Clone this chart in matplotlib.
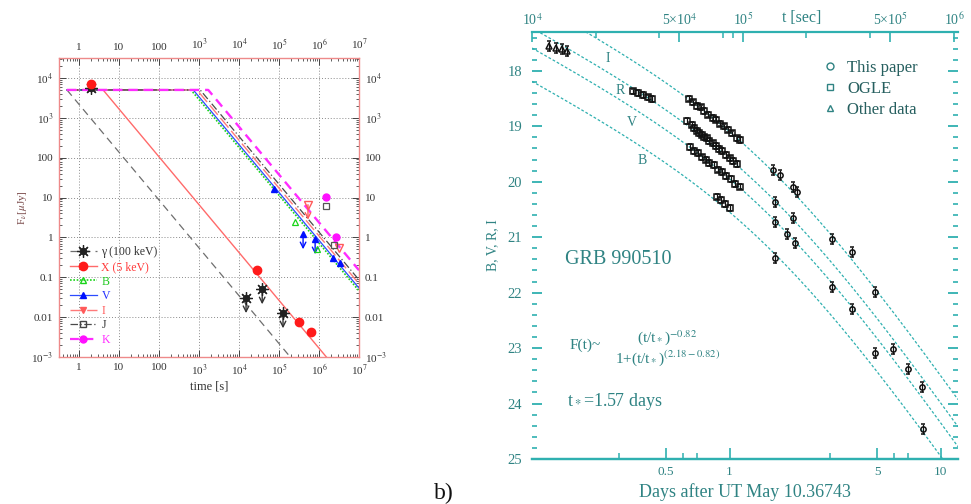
import numpy as np
import matplotlib
matplotlib.use("Agg")
import matplotlib.pyplot as plt
from matplotlib.lines import Line2D
from matplotlib.ticker import FixedLocator, NullFormatter, LogLocator
from matplotlib.legend_handler import HandlerTuple

plt.rcParams["font.family"] = ["Liberation Serif", "DejaVu Serif"]
plt.rcParams["mathtext.fontset"] = "stix"

# ---------------- panel a: broken power-law afterglow ----------------
band_names = ["γ (100 keV)", "X (5 keV)", "B", "V", "I", "J", "K"]
line_colors = ["#6e6e6e", "#ff6a6a", "#19d419", "#2b4bff", "#ff7a7a", "#4a4a4a", "#ff2bff"]
mark_colors = ["#222222", "#ff1a1a", "#19d419", "#0010ff", "#ff5a5a", "#444444", "#ff10ff"]
text_colors = ["#333333", "#ff3a3a", "#22c922", "#2230ff", "#ff5a5a", "#333333", "#ff2bff"]
F_plateau = 5.0e3
decay_index = 1.2
t_first = 0.5
t_last = 1.0e7
t_break = [0.5, 4.0, 630.0, 720.0, 890.0, 1070.0, 1700.0]

# observed points (t in s, F in microJy); True = upper limit
gam_t = [2.0, 1.5e4, 3.8e4, 1.26e5]
gam_F = [5.5e3, 0.030, 0.050, 0.0125]
gam_ul = [False, True, True, True]
x_t = [2.0, 2.8e4, 3.2e5, 6.3e5]
x_F = [7.0e3, 0.15, 0.0075, 0.0042]
b_t = [2.5e5, 9.0e5]
b_F = [2.4, 0.5]
v_t = [7.5e4, 4.0e5, 8.0e5, 2.2e6, 3.3e6]
v_F = [16.6, 1.2, 0.9, 0.30, 0.23]
v_ul = [False, True, True, False, False]
i_t = [5.3e5, 3.2e6]
i_F = [6.6, 0.53]
i_ul = [True, False]
j_t = [1.5e6, 2.4e6]
j_F = [6.3, 0.63]
k_t = [1.5e6, 2.6e6]
k_F = [10.5, 1.05]

x_tick_vals = [1, 10, 100, 1e3, 1e4, 1e5, 1e6, 1e7]
x_tick_text = ["1", "10", "100", "10$^3$", "10$^4$", "10$^5$", "10$^6$", "10$^7$"]
y_tick_vals = [1e-3, 1e-2, 0.1, 1, 10, 100, 1e3, 1e4]
y_tick_text = ["10$^{-3}$", "0.01", "0.1", "1", "10", "100", "10$^3$", "10$^4$"]

# ---------------- panel b: GRB 990510 optical light curves ----------------
alpha1 = 0.82
alpha2 = 2.18
t_star = 1.57  # days
curve_bands = ["I", "R", "V", "B"]
curve_zero = [19.03, 19.52, 19.88, 20.48]

I_day = [0.64, 0.67, 0.70, 0.73, 0.76, 0.79, 0.83, 0.86, 0.90, 0.94, 0.98, 1.03, 1.08, 1.12,
         1.61, 1.73, 2.00, 2.09, 3.06, 3.80, 4.89]
I_mag = [18.50, 18.57, 18.63, 18.66, 18.72, 18.79, 18.85, 18.88, 18.95, 19.00, 19.06, 19.13, 19.22, 19.25,
         19.78, 19.87, 20.09, 20.18, 21.04, 21.26, 21.98]
I_src = "ssssssssssssss" + "ooooooo"
R_day = [0.14, 0.15, 0.16, 0.17, 0.35, 0.37, 0.39, 0.41, 0.43,
         0.63, 0.66, 0.68, 0.70, 0.72, 0.74, 0.76, 0.78, 0.80, 0.83, 0.86, 0.89, 0.92, 0.96, 1.00, 1.04, 1.08,
         1.64, 2.00, 5.95, 7.01, 8.17]
R_mag = [17.55, 17.58, 17.61, 17.64, 18.37, 18.40, 18.44, 18.48, 18.51,
         18.90, 18.97, 19.03, 19.08, 19.12, 19.15, 19.20, 19.22, 19.27, 19.31, 19.36, 19.41, 19.45, 19.52, 19.58, 19.63, 19.68,
         20.36, 20.65, 23.02, 23.38, 23.71]
R_src = "^^^^sssss" + "sssssssssssssssss" + "ooooo"
V_day = [0.65, 0.68, 0.71, 0.74, 0.77, 0.80, 0.84, 0.88, 0.92, 0.96, 1.01, 1.06, 1.12,
         1.64, 1.87, 2.04, 3.06, 3.80, 4.89]
V_mag = [19.37, 19.45, 19.48, 19.56, 19.60, 19.66, 19.70, 19.78, 19.82, 19.90, 19.95, 20.04, 20.09,
         20.72, 20.95, 21.10, 21.89, 22.30, 23.08]
V_src = "sssssssssssss" + "oooooo"
B_day = [0.87, 0.91, 0.95, 1.00, 1.64, 8.25]
B_mag = [20.27, 20.33, 20.40, 20.47, 21.37, 24.46]
B_src = "ssssoo"

mag_ticks = [18, 19, 20, 21, 22, 23, 24, 25]
sec_ticks = [1e4, 5e4, 1e5, 5e5, 1e6]
sec_labels = ["10$^4$", "5×10$^4$", "10$^5$", "5×10$^5$", "10$^6$"]
sec_minor = [2e4, 4e4, 8e4, 9e4, 2e5, 4e5]
day_ticks = [0.5, 1, 5, 10]
day_labels = ["0.5", "1", "5", "10"]
day_minor = [0.3, 0.6, 0.7, 3, 6, 7]

W, H = 971, 504
fig = plt.figure(figsize=(W / 100, H / 100), dpi=100)
fig.patch.set_facecolor("white")


def fx(x):
    return x / W


def fy(y):
    return 1 - y / H


# ======================= panel a =======================
ax = fig.add_axes([fx(59), fy(357), 300 / W, 299 / H])
ax.set_xscale("log")
ax.set_yscale("log")
ax.set_xlim(10 ** -0.5, 1e7)
ax.set_ylim(1e-3, 10 ** 4.5)

styles = [(0, (6, 4)), "-", (0, (1, 1)), "-", (0, (9, 3)), (0, (6, 2, 1, 2)), (0, (4, 2.5))]
widths = [0.9, 1.0, 1.2, 0.9, 1.0, 0.9, 1.7]
for tb, col, ls, lw in zip(t_break, line_colors, styles, widths):
    tt = np.array([t_first, tb, t_last])
    ff = F_plateau * np.where(tt > tb, (tt / tb) ** (-decay_index), 1.0)
    ax.plot(tt, ff, color=col, ls=ls, lw=lw, zorder=2)


def upper_arrows(ts, fs, flags, col):
    for t, f, u in zip(ts, fs, flags):
        if u:
            ax.annotate("", xy=(t, f * 0.42), xytext=(t, f),
                        arrowprops=dict(arrowstyle="->", color=col, lw=1.0,
                                        shrinkA=0, shrinkB=0), zorder=4)


upper_arrows(gam_t, gam_F, gam_ul, "#333333")
upper_arrows(v_t, v_F, v_ul, mark_colors[3])
upper_arrows(i_t, i_F, i_ul, mark_colors[4])

ax.plot(gam_t, gam_F, ls="none", marker=(8, 2, 0), ms=9, mec="#222222", mew=0.9, zorder=5)
ax.plot(gam_t, gam_F, ls="none", marker="o", ms=4.5, mfc="none", mec="#222222", mew=0.8, zorder=5)
ax.plot(x_t, x_F, ls="none", marker="o", ms=6, color=mark_colors[1], zorder=5)
ax.plot(b_t, b_F, ls="none", marker="^", ms=5, mfc="none", mec=mark_colors[2], mew=0.9, zorder=5)
ax.plot(v_t, v_F, ls="none", marker="^", ms=5, color=mark_colors[3], zorder=5)
ax.plot(i_t, i_F, ls="none", marker="v", ms=6, mfc="none", mec=mark_colors[4], mew=1.0, zorder=5)
ax.plot(j_t, j_F, ls="none", marker="s", ms=5, mfc="none", mec="#555555", mew=0.9, zorder=5)
ax.plot(k_t, k_F, ls="none", marker="o", ms=5, color=mark_colors[6], zorder=5)

ax.grid(True, which="major", ls=(0, (1, 2)), color="#8a8a8a", lw=0.7)
ax.xaxis.set_major_locator(FixedLocator(x_tick_vals))
ax.set_xticklabels(x_tick_text)
ax.yaxis.set_major_locator(FixedLocator(y_tick_vals))
ax.set_yticklabels(y_tick_text)
ax.xaxis.set_minor_locator(LogLocator(base=10, subs=np.arange(2, 10), numticks=20))
ax.yaxis.set_minor_locator(LogLocator(base=10, subs=np.arange(2, 10), numticks=20))
ax.xaxis.set_minor_formatter(NullFormatter())
ax.yaxis.set_minor_formatter(NullFormatter())
ax.tick_params(which="both", direction="in", top=True, right=True, labeltop=True,
               labelright=True, labelsize=8, colors="#444444", labelcolor="#333333")
ax.tick_params(which="major", length=5, width=0.7, pad=4)
ax.tick_params(which="minor", length=2.5, width=0.6)
for sp in ax.spines.values():
    sp.set_color("#ee8a8a")
    sp.set_linewidth(1.0)
ax.set_xlabel("time [s]", fontsize=9, color="#333333", labelpad=2)
ax.set_ylabel(r"F$_{\nu}$[$\mu$Jy]", fontsize=8, color="#7a4a4a", labelpad=2)

handles = []
gam_h = (Line2D([], [], color=line_colors[0], ls=styles[0], lw=widths[0], marker=(8, 2, 0),
                ms=9, mec="#222222", mew=0.9),
         Line2D([], [], ls="none", marker="o", ms=4.5, mfc="none", mec="#222222", mew=0.8))
handles.append(gam_h)
handles.append(Line2D([], [], color=line_colors[1], lw=1.0, marker="o", ms=6,
                      mfc=mark_colors[1], mec=mark_colors[1]))
handles.append(Line2D([], [], color=line_colors[2], ls=styles[2], lw=1.2, marker="^", ms=5,
                      mfc="none", mec=mark_colors[2]))
handles.append(Line2D([], [], color=line_colors[3], lw=0.9, marker="^", ms=5,
                      mfc=mark_colors[3], mec=mark_colors[3]))
handles.append(Line2D([], [], color=line_colors[4], ls=styles[4], lw=1.0, marker="v", ms=4,
                      mfc=mark_colors[4], mec=mark_colors[4]))
handles.append(Line2D([], [], color=line_colors[5], ls=styles[5], lw=0.9, marker="s", ms=4,
                      mfc="none", mec="#444444"))
handles.append(Line2D([], [], color=line_colors[6], ls=styles[6], lw=1.6, marker="o", ms=5,
                      mfc=mark_colors[6], mec=mark_colors[6]))
leg = ax.legend(handles, band_names, loc="upper left", bbox_to_anchor=(0.035, 0.37),
                frameon=False, fontsize=8.5, labelspacing=0.22, handlelength=2.3,
                handletextpad=0.4, borderpad=0.0, borderaxespad=0.0,
                handler_map={tuple: HandlerTuple(ndivide=1)})
for txt, c in zip(leg.get_texts(), text_colors):
    txt.set_color(c)

fig.text(fx(434), fy(499), "b)", fontsize=17, color="#111111", ha="left", va="baseline")

# ======================= panel b =======================
teal = "#2f8383"
curve_teal = "#2fb0b0"
ax2 = fig.add_axes([fx(532), fy(459), 426 / W, 427 / H])
ax2.set_xscale("log")
ax2.set_xlim(1e4, 1.045e6)
ax2.set_ylim(25, 17.3)

t_grid = np.logspace(4, np.log10(1.045e6), 400)
d_grid = t_grid / 86400.0
for m0 in curve_zero:
    u = d_grid / t_star
    mag = m0 + 2.5 * (alpha1 * np.log10(u) + np.log10(1 + u ** (alpha2 - alpha1)))
    ax2.plot(t_grid, mag, color=curve_teal, lw=0.9, ls=(0, (2.2, 1.6)), zorder=2)

marker_of = {"o": dict(marker="o", mfc="none"), "s": dict(marker="s", mfc="none"),
             "^": dict(marker="^", mfc="none")}
for days, mags, src in [(I_day, I_mag, I_src), (R_day, R_mag, R_src),
                        (V_day, V_mag, V_src), (B_day, B_mag, B_src)]:
    for code in "os^":
        sel = [k for k, c in enumerate(src) if c == code]
        if not sel:
            continue
        tt = np.array([days[k] for k in sel]) * 86400.0
        mm = np.array([mags[k] for k in sel])
        err = 0.05 if code == "s" else 0.09
        ax2.errorbar(tt, mm, yerr=err, ls="none", ecolor="#111111", elinewidth=0.9,
                     capsize=1.6, capthick=0.9, ms=3.8, mec="#111111", mew=1.1,
                     zorder=4, **marker_of[code])

for sp in ["left", "right"]:
    ax2.spines[sp].set_visible(False)
for sp in ["top", "bottom"]:
    ax2.spines[sp].set_color(curve_teal)
    ax2.spines[sp].set_linewidth(1.6)

ax2.yaxis.set_major_locator(FixedLocator(mag_ticks))
ax2.yaxis.set_minor_locator(FixedLocator(np.arange(17.4, 25.0, 0.2)))
ax2.yaxis.set_minor_formatter(NullFormatter())
ax2.tick_params(axis="y", which="both", direction="in", left=True, right=True,
                colors=curve_teal, labelcolor=teal, labelsize=10.5)
ax2.tick_params(axis="y", which="major", length=7, width=1.3, pad=7)
ax2.tick_params(axis="y", which="minor", length=3.5, width=1.2)

ax2.xaxis.set_major_locator(FixedLocator(sec_ticks))
ax2.set_xticklabels(sec_labels)
ax2.xaxis.set_minor_locator(FixedLocator(sec_minor))
ax2.xaxis.set_minor_formatter(NullFormatter())
ax2.tick_params(axis="x", which="both", direction="in", top=True, bottom=False,
                labeltop=True, labelbottom=False, colors=curve_teal, labelcolor=teal,
                labelsize=10)
ax2.tick_params(axis="x", which="major", length=7, width=1.2, pad=3)
ax2.tick_params(axis="x", which="minor", length=4, width=1.1)

sec = ax2.secondary_xaxis("bottom", functions=(lambda s: s / 86400.0, lambda d: d * 86400.0))
sec.xaxis.set_major_locator(FixedLocator(day_ticks))
sec.set_xticklabels(day_labels)
sec.xaxis.set_minor_locator(FixedLocator(day_minor))
sec.xaxis.set_minor_formatter(NullFormatter())
sec.tick_params(which="both", direction="in", colors=curve_teal, labelcolor=teal, labelsize=9.5)
sec.tick_params(which="major", length=8, width=1.2, pad=5)
sec.tick_params(which="minor", length=4, width=1.1)
sec.spines["bottom"].set_color(curve_teal)
sec.spines["bottom"].set_linewidth(1.6)
sec.set_xlabel("Days after UT May 10.36743", fontsize=13, color=teal, labelpad=4)

ax2.set_ylabel("B, V, R, I", fontsize=10, color=teal, labelpad=6)
fig.text(fx(802), fy(18), "t [sec]", fontsize=11.5, color=teal, ha="center", va="center")

leg_h = [Line2D([], [], ls="none", marker="o", mfc="none", mec=teal, ms=5, mew=1.0),
         Line2D([], [], ls="none", marker="s", mfc="none", mec=teal, ms=5, mew=1.0),
         Line2D([], [], ls="none", marker="^", mfc="none", mec=teal, ms=5, mew=1.0)]
leg2 = ax2.legend(leg_h, ["This paper", "OGLE", "Other data"], loc="upper left",
                  bbox_to_anchor=(0.685, 0.935), frameon=False, fontsize=12,
                  labelspacing=0.3, handlelength=0.8, handletextpad=0.6,
                  borderpad=0.0, borderaxespad=0.0)
for txt in leg2.get_texts():
    txt.set_color("#265f5f")

label_pos = [(608, 58), (620, 90), (632, 123), (642, 161)]
for name, (px, py) in zip(curve_bands, label_pos):
    fig.text(fx(px), fy(py), name, fontsize=10, color=teal, ha="center", va="center")

fig.text(fx(565), fy(260), "GRB 990510", fontsize=14.5, color=teal, ha="left", va="center")
fig.text(fx(570), fy(345), "F(t)~", fontsize=11, color=teal, ha="left", va="center")
fig.text(fx(637), fy(338), r"(t/t$_*$)$^{-0.82}$", fontsize=11, color=teal, ha="left", va="center")
fig.text(fx(615), fy(358), r"1+(t/t$_*$)$^{(2.18-0.82)}$", fontsize=11, color=teal, ha="left", va="center")
fig.text(fx(567), fy(401), r"t$_*$=1.57 days", fontsize=13, color=teal, ha="left", va="center")

fig.savefig("out.png", dpi=100, facecolor="white")
